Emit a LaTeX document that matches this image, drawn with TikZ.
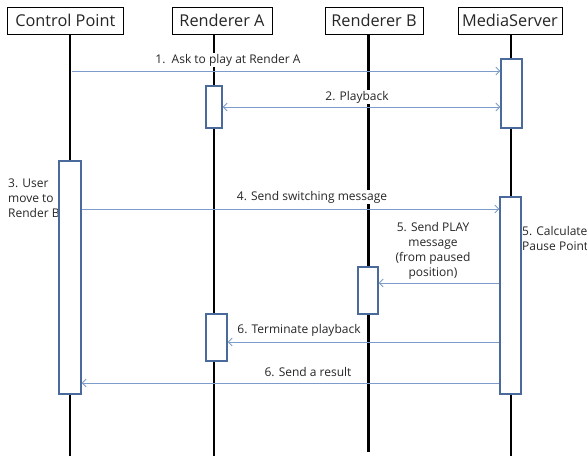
\documentclass[tikz,border=0pt]{standalone}
\usepackage{fontspec}
\setmainfont{Open Sans}
\usetikzlibrary{arrows.meta}
\definecolor{actblue}{HTML}{4A6A9C}
\definecolor{msgblue}{HTML}{7C9CCB}
\tikzset{
  hdr/.style={draw=black, line width=0.8pt, fill=white, inner sep=0pt, minimum height=27pt, font=\fontsize{16.3}{18}\selectfont, text=black!85},
  life/.style={draw=black, line width=2.6pt},
  act/.style={draw=actblue, line width=1.3pt, fill=white, inner sep=0pt},
  msg/.style={draw=msgblue, line width=0.8pt, -{Straight Barb[length=4pt,width=8pt]}},
  dmsg/.style={draw=msgblue, line width=0.8pt, {Straight Barb[length=4pt,width=8pt]}-{Straight Barb[length=4pt,width=8pt]}},
  lbl/.style={fill=white, inner sep=1pt, font=\fontsize{12}{15}\selectfont, text=black!85},
  note/.style={inner sep=0pt, font=\fontsize{12}{15}\selectfont, text=black!85, align=left}
}
\begin{document}
\begin{tikzpicture}[x=1pt,y=-1pt]
\useasboundingbox (0,0) rectangle (587,459);
% headers
\node[hdr, minimum width=115.5pt] (cp) at (65.3,20.5) {Control Point};
\node[hdr, minimum width=100pt] (ra) at (222,20.5) {Renderer A};
\node[hdr, minimum width=98pt] (rb) at (374,20.5) {Renderer B};
\node[hdr, minimum width=104pt] (ms) at (510,20.5) {MediaServer};
% lifeline ends
\coordinate (cpE) at (70,456);
\coordinate (raE) at (214,456);
\coordinate (rbE) at (368.5,452);
\coordinate (msE) at (511,456);
\draw[life] (cp.south -| cpE) -- (cpE);
\draw[life] (ra.south -| raE) -- (raE);
\draw[life] (rb.south -| rbE) -- (rbE);
\draw[life] (ms.south -| msE) -- (msE);
% labels (white background covers lifelines)
\node[lbl] (l1) at (228,60) {1.\ \ Ask to play at Render A};
\node[lbl] (l2) at (357,97) {2. Playback};
\node[lbl] (l4) at (312,197) {4. Send switching message};
\node[lbl, align=center] (l5) at (433,251) {5. Send PLAY\\message\\(from paused\\position)};
\node[lbl] (l6a) at (299,330) {6. Terminate playback};
\node[lbl] (l6b) at (308,372) {6. Send a result};
\node[note, anchor=north west] (l3) at (8,179) {3. User\\move to\\Render B};
\node[note, anchor=north west] (l5b) at (522,226) {5. Calculate\\Pause Point};
% activations
\node[act, minimum width=21pt, minimum height=69pt] (ms1) at (511.5,93.5) {};
\node[act, minimum width=16pt, minimum height=42pt] (ra1) at (214,107) {};
\node[act, minimum width=22pt, minimum height=233pt] (cp1) at (70,277.5) {};
\node[act, minimum width=21pt, minimum height=197pt] (ms2) at (510.5,295.5) {};
\node[act, minimum width=20pt, minimum height=47pt] (rb1) at (368,290.5) {};
\node[act, minimum width=21pt, minimum height=47pt] (ra2) at (216.5,337.5) {};
% messages
\coordinate (m1) at (71.5,71);
\draw[msg] (m1) -- (ms1.west |- m1);
\coordinate (m2) at (0,107);
\draw[dmsg] (ra1.east |- m2) -- (ms1.west |- m2);
\coordinate (m4) at (0,209);
\draw[msg] (cp1.east |- m4) -- (ms2.west |- m4);
\coordinate (m5) at (0,283);
\draw[msg] (ms2.west |- m5) -- (rb1.east |- m5);
\coordinate (m6) at (0,342);
\draw[msg] (ms2.west |- m6) -- (ra2.east |- m6);
\coordinate (m7) at (0,383);
\draw[msg] (ms2.west |- m7) -- (cp1.east |- m7);
\end{tikzpicture}
\end{document}
